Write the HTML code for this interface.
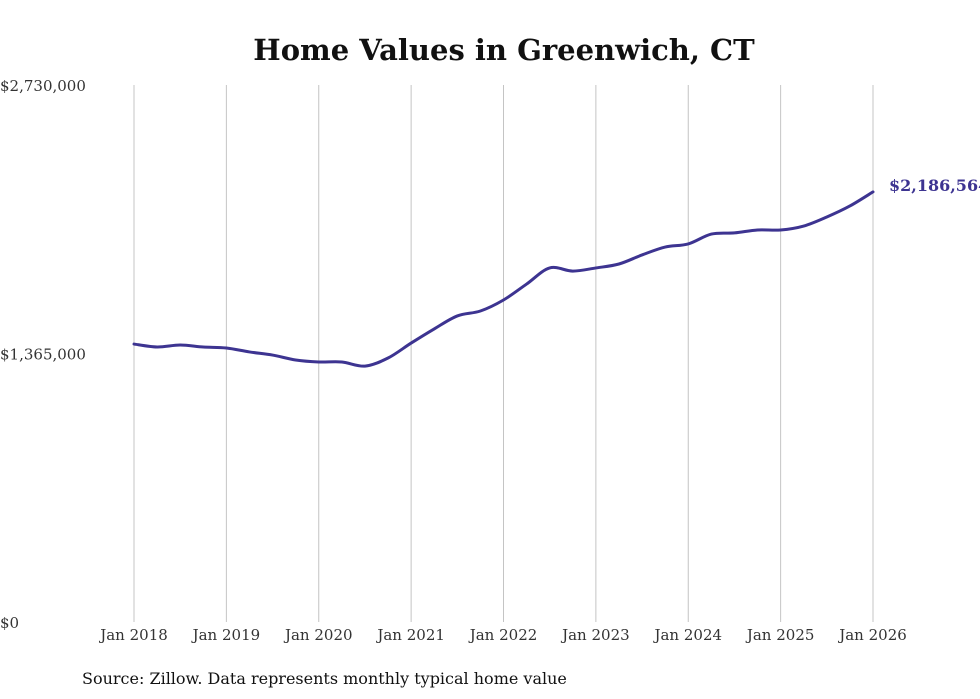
<!DOCTYPE html>
<html><head><meta charset="utf-8"><style>
html,body{margin:0;padding:0;background:#fff;width:980px;height:699px;overflow:hidden}
svg{display:block}
</style></head><body>
<svg id="chart" width="980" height="699" font-family="'DejaVu Serif','Liberation Serif',serif">
<text x="504" y="60" text-anchor="middle" font-size="29" font-weight="bold" fill="#111">Home Values in Greenwich, CT</text>
<g id="grid"></g>
<g id="yaxis"></g>
<g id="xaxis"></g>
<g id="series"></g>
<text x="82" y="684" font-size="16" fill="#111" font-family="'DejaVu Serif','Liberation Serif',serif">Source: Zillow. Data represents monthly typical home value</text>
</svg>
<script>
const xLabels=["Jan 2018","Jan 2019","Jan 2020","Jan 2021","Jan 2022","Jan 2023","Jan 2024","Jan 2025","Jan 2026"];
const yTicks=[0,1365000,2730000];
const yTickLabels=["$0","$1,365,000","$2,730,000"];
// quarterly values, Jan 2018 .. Jan 2026
const values=[1413000,1398000,1408000,1398000,1393000,1373000,1357000,1332000,1322000,1322000,1301000,1342000,1418000,1490000,1556000,1581000,1637000,1718000,1800000,1784000,1800000,1820000,1866000,1906000,1922000,1972000,1978000,1993000,1993000,2013000,2059000,2115000,2186564];
const lastLabel="$2,186,564";
const NS="http://www.w3.org/2000/svg";
const x0=134,x1=873,yTop=85,yBot=622,maxV=2730000;
const xs=i=>x0+(x1-x0)*i/(values.length-1);
const xYear=i=>x0+(x1-x0)*i/(xLabels.length-1);
const ys=v=>yBot-(yBot-yTop)*v/maxV;
function mk(tag,attrs,parent){const e=document.createElementNS(NS,tag);for(const k in attrs)e.setAttribute(k,attrs[k]);parent.appendChild(e);return e;}
const grid=document.getElementById('grid'),xa=document.getElementById('xaxis'),ya=document.getElementById('yaxis'),se=document.getElementById('series');
xLabels.forEach((l,i)=>{
 const g=mk('line',{x1:xYear(i),x2:xYear(i),y1:yTop,y2:yBot,stroke:'#c4c4c4','stroke-width':1},grid);
 
 
 const t=mk('text',{x:xYear(i),y:640,'text-anchor':'middle','font-size':15,fill:'#333'},xa);
 t.textContent=l;
 
 
});
yTicks.forEach((v,i)=>{
 const t=mk('text',{x:0,y:ys(v)+6,'font-size':15,fill:'#333'},ya);
 t.textContent=yTickLabels[i];
 
 
});
const pts=values.map((v,i)=>[xs(i),ys(v)]);
let d=`M${pts[0][0]},${pts[0][1]}`;
for(let i=0;i<pts.length-1;i++){
 const p0=pts[i-1]||pts[i],p1=pts[i],p2=pts[i+1],p3=pts[i+2]||p2;
 const c1=[p1[0]+(p2[0]-p0[0])/6,p1[1]+(p2[1]-p0[1])/6],c2=[p2[0]-(p3[0]-p1[0])/6,p2[1]-(p3[1]-p1[1])/6];
 d+=` C${c1[0]},${c1[1]} ${c2[0]},${c2[1]} ${p2[0]},${p2[1]}`;
}
const path=mk('path',{d:d,fill:'none',stroke:'#3d3491','stroke-width':3,'stroke-linejoin':'round','stroke-linecap':'round'},se);


const lb=mk('text',{x:xs(values.length-1)+16,y:ys(values[values.length-1])-1,'font-size':16,'font-weight':'bold',fill:'#3d3491'},se);
lb.textContent=lastLabel;


</script>
</body></html>
